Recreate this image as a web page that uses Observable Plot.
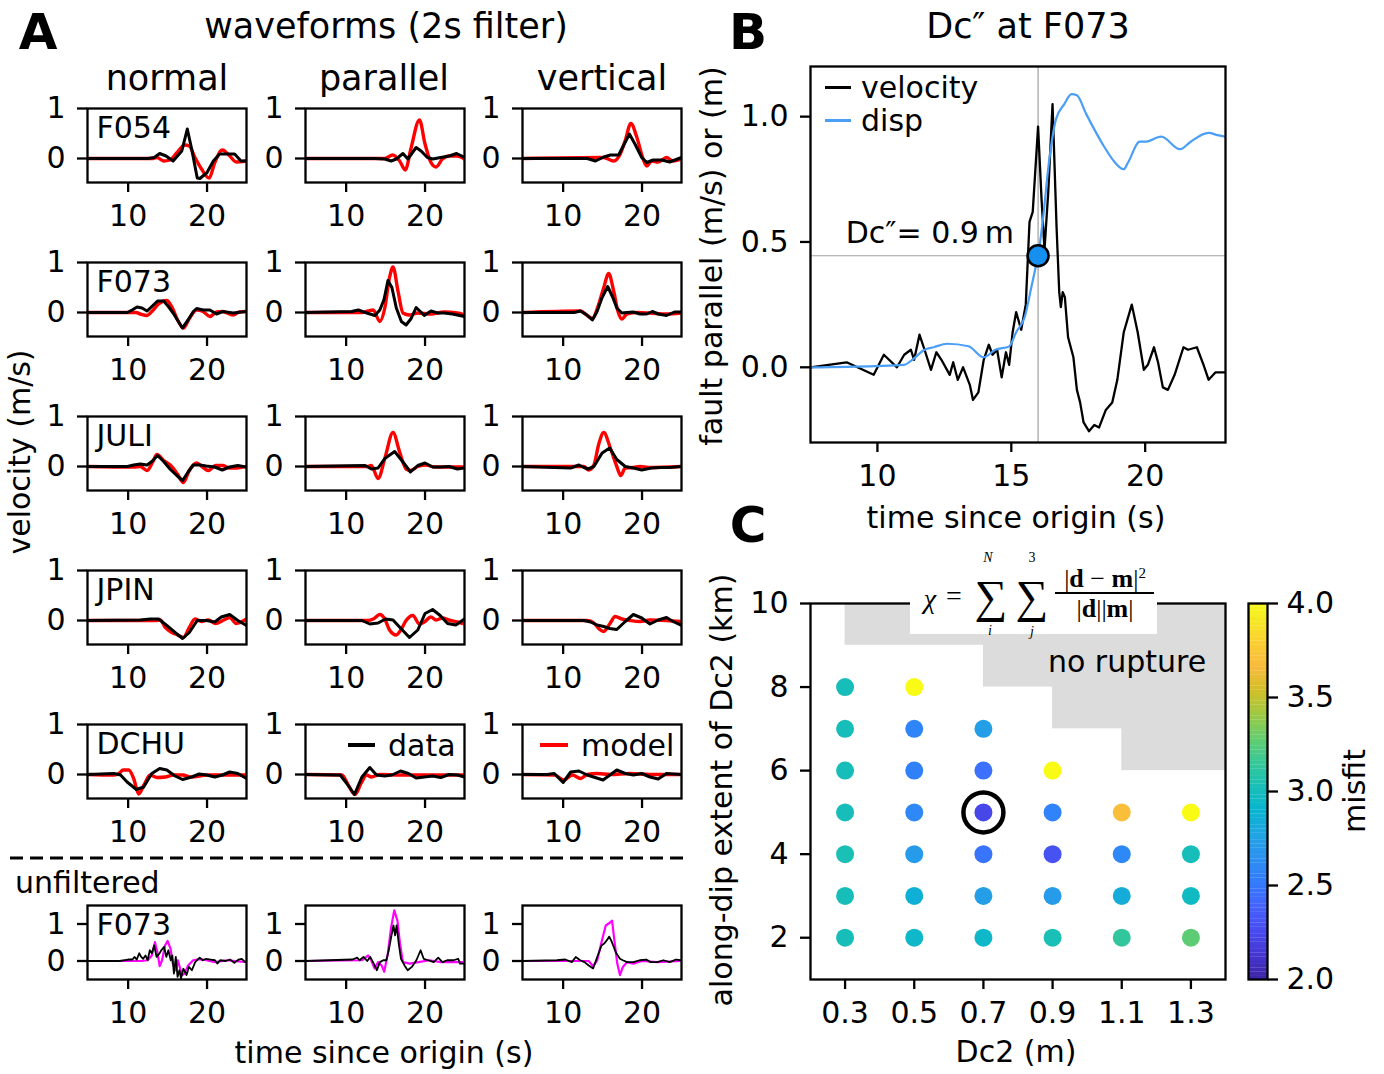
<!DOCTYPE html>
<html><head><meta charset="utf-8">
<script src="https://cdn.jsdelivr.net/npm/d3@7"></script>
<script src="https://cdn.jsdelivr.net/npm/@observablehq/plot@0.6"></script>
<style>
html,body{margin:0;padding:0;background:#fff;}
#root{position:relative;width:1384px;height:1074px;overflow:hidden;font-family:"DejaVu Sans",sans-serif;color:#000;background:#fff;}
.abs{position:absolute;white-space:nowrap;line-height:1;}
svg{overflow:visible;display:block;}
</style></head><body><div id="root"></div>
<script>
// ---------------- DATA ----------------
// Panel A: waveforms, [time (s), velocity (m/s)]
const stations = ["F054", "F073", "JULI", "JPIN", "DCHU"];
const components = ["normal", "parallel", "vertical"];
const waveTicksX = [10, 20];
const waveTicksY = [0, 1];

const F054_normal_data = [[4.85,0],[12.5,0],[13.3,0.02],[14.0,0.1],[14.8,0.05],[15.7,-0.05],[16.8,0.15],[17.5,0.59],[18.05,0.19],[18.76,-0.39],[19.1,-0.4],[20.0,-0.28],[20.8,-0.05],[21.6,0.09],[22.9,0.09],[23.5,0.09],[24.3,-0.05],[25,-0.05]];
const F054_normal_model = [[4.85,0],[13,0],[13.65,0.02],[14.5,-0.05],[15.3,-0.03],[16.2,0.12],[17.2,0.27],[17.75,0.25],[18.47,0.02],[19.3,-0.21],[20.27,-0.39],[20.98,-0.08],[21.95,0.17],[22.87,0.05],[23.7,-0.07],[25,-0.05]];
const F054_parallel_data = [[4.85,0],[13.6,0],[14.9,-0.01],[15.7,-0.05],[16.36,-0.01],[17.2,0.1],[17.82,-0.01],[18.87,0.22],[19.5,0.15],[20.3,0.02],[20.96,-0.01],[22.0,0.02],[23.05,0.05],[24.0,0.1],[25,0.02]];
const F054_parallel_model = [[4.85,0],[14.9,0],[15.9,0.07],[16.78,-0.05],[17.5,-0.23],[18.2,0.19],[19.29,0.77],[20.0,0.29],[20.75,-0.08],[21.4,-0.17],[22.2,-0.01],[23.0,0.05],[24.1,0.05],[25,-0.01]];
const F054_vertical_data = [[4.85,0],[13.05,0],[14.1,-0.05],[15.15,0.03],[16.0,0.07],[17.03,0.07],[17.65,0.26],[18.4,0.49],[19.1,0.29],[19.96,0.02],[20.6,-0.08],[21.4,-0.03],[22.5,-0.03],[23.5,-0.07],[25,0.02]];
const F054_vertical_model = [[4.85,0],[15.15,0.02],[16.4,-0.05],[17.24,0.09],[17.87,0.36],[18.58,0.70],[19.33,0.43],[20.08,0.02],[20.6,-0.15],[21.2,-0.05],[22.05,-0.07],[23.1,0.02],[23.9,-0.05],[25,-0.01]];

const F073_normal_data = [[4.85,0],[9.9,0],[10.5,0.05],[11.13,0.11],[11.76,0.09],[12.4,0.03],[13.0,0.12],[13.73,0.23],[14.5,0.23],[15.1,0.12],[15.7,-0.01],[16.37,-0.18],[16.87,-0.31],[17.6,-0.15],[18.26,0.02],[18.68,0.08],[19.5,0.05],[20.36,0.05],[21.2,-0.03],[22.0,0.02],[23.3,-0.01],[25,0.02]];
const F073_normal_model = [[4.85,0],[11.0,0],[11.55,-0.03],[12.4,-0.06],[13.0,0.02],[13.85,0.17],[14.9,0.24],[15.5,0.12],[16.37,-0.18],[17.0,-0.31],[17.75,-0.12],[18.68,0.05],[19.5,0.02],[20.36,-0.08],[21.2,0.01],[21.95,0.02],[23.3,-0.05],[24.1,0.01],[25,0.02]];
const F073_parallel_data = [[4.85,0],[10.7,0.02],[11.55,0.05],[12.4,0],[13.64,-0.06],[14.27,0.05],[14.8,0.26],[15.3,0.64],[15.8,0.5],[16.36,0.09],[17.0,-0.18],[17.6,-0.25],[18.24,-0.12],[18.87,0.1],[19.4,0.02],[19.9,-0.06],[20.75,0.03],[21.6,-0.01],[22.4,-0.01],[23.47,-0.03],[25,-0.08]];
const F073_parallel_model = [[4.85,0],[12.0,0],[12.8,0.03],[13.43,0.05],[14.27,-0.18],[14.9,0.09],[15.5,0.7],[15.94,0.91],[16.57,0.43],[17.2,-0.01],[18.03,-0.05],[19.08,-0.01],[20.75,-0.03],[22.4,0.01],[24.1,-0.01],[25,-0.05]];
const F073_vertical_data = [[4.85,0],[11.4,0],[12.2,0.03],[13.0,-0.05],[13.7,-0.15],[14.3,0.02],[14.94,0.3],[15.65,0.52],[16.3,0.3],[16.8,0.09],[17.45,-0.01],[18.07,0],[18.9,0.01],[19.75,-0.03],[20.6,-0.03],[21.3,0.02],[22.05,-0.03],[23.1,-0.06],[24.1,0.01],[25,0.01]];
const F073_vertical_model = [[4.85,0],[12.2,0.03],[13.05,-0.06],[13.7,-0.12],[14.5,0.16],[15.15,0.5],[15.77,0.78],[16.4,0.43],[16.95,0.02],[17.45,-0.13],[18.07,-0.03],[19.33,0],[21.0,-0.01],[23.1,-0.03],[25,-0.01]];

const JULI_normal_data = [[4.85,0],[9.9,0],[10.7,0.03],[11.55,0.05],[12.4,0.03],[13.0,0.1],[13.73,0.22],[14.5,0.1],[15.3,-0.05],[16.16,-0.18],[16.9,-0.28],[17.6,-0.11],[18.25,0.03],[19.1,0.03],[19.9,0.01],[20.97,-0.01],[21.93,-0.07],[22.85,-0.01],[23.9,0.02],[25,-0.01]];
const JULI_normal_model = [[4.85,0],[10.7,-0.01],[11.55,0],[12.4,-0.08],[13.14,0.1],[13.65,0.24],[14.5,0.12],[15.4,0.02],[16.25,-0.15],[17.0,-0.32],[17.75,-0.08],[18.68,0.07],[19.43,-0.01],[20.15,-0.08],[21.1,0.02],[21.95,0.02],[22.85,-0.03],[23.7,-0.03],[25,0]];
const JULI_parallel_data = [[4.85,0],[12.4,0.02],[13.2,-0.05],[14.05,-0.03],[14.9,0.16],[16.15,0.3],[17.2,0.09],[18.15,-0.11],[19.08,0.02],[20.0,0.07],[20.96,-0.01],[22.0,-0.01],[23.05,0],[24.1,-0.05],[25,-0.03]];
const JULI_parallel_model = [[4.85,0],[12.6,0],[13.2,0.02],[14.05,-0.24],[14.9,0.16],[15.94,0.68],[16.78,0.29],[17.6,-0.05],[18.15,-0.08],[19.08,0],[20.1,0.03],[21.2,-0.01],[23.2,-0.01],[25,-0.01]];
const JULI_vertical_data = [[4.85,0],[10.96,-0.03],[12.0,0.03],[12.64,-0.02],[13.14,-0.05],[13.9,0],[14.94,0.27],[15.9,0.37],[16.8,0.14],[17.87,0],[18.9,-0.03],[19.96,-0.07],[21.2,-0.03],[22.26,-0.02],[23.5,-0.02],[25,0]];
const JULI_vertical_model = [[4.85,0],[12.6,0],[13.26,-0.07],[13.9,0.03],[14.5,0.44],[15.15,0.68],[15.98,0.37],[16.8,0],[17.3,-0.18],[17.87,-0.03],[18.9,-0.02],[19.75,0],[20.8,-0.02],[25,0]];

const JPIN_normal_data = [[4.85,0],[11.55,0.01],[12.8,0.03],[13.86,0.03],[14.9,-0.1],[15.95,-0.24],[16.9,-0.36],[17.75,-0.24],[18.76,0],[19.94,0],[20.98,-0.03],[21.8,0.07],[22.87,0.12],[23.9,0],[25,-0.1]];
const JPIN_normal_model = [[4.85,0],[13.5,0],[14.07,0.01],[14.7,-0.14],[15.53,-0.24],[16.16,-0.28],[17.0,-0.34],[17.75,-0.14],[18.47,0.03],[19.3,-0.02],[20.15,0.01],[21.1,-0.06],[22.0,0],[22.87,0.06],[23.7,-0.06],[25,0.03]];
const JPIN_parallel_data = [[4.85,0],[12.0,0],[13.0,-0.07],[14.05,-0.05],[15.0,0.03],[15.94,0.01],[17.0,-0.17],[18.03,-0.34],[19.08,-0.19],[20.0,0.14],[20.96,0.22],[21.92,0.1],[22.85,-0.06],[23.9,-0.09],[25,0.03]];
const JPIN_parallel_model = [[4.85,0],[12.8,0],[13.43,0.03],[14.27,0.12],[14.9,0.03],[15.5,-0.19],[16.36,-0.29],[17.0,-0.17],[17.6,0],[18.45,0.1],[19.29,-0.07],[19.9,-0.03],[20.75,0.07],[21.4,0.01],[22.2,0.05],[23.0,0.01],[24.1,-0.03],[25,-0.07]];
const JPIN_vertical_data = [[4.85,0],[12.64,0],[13.47,-0.03],[14.3,-0.09],[15.15,-0.12],[15.9,-0.16],[16.8,-0.18],[17.87,-0.02],[18.9,0.12],[19.96,0.05],[21.0,-0.07],[22.05,0.01],[23.1,0.06],[23.93,-0.02],[25,-0.1]];
const JPIN_vertical_model = [[4.85,0],[13.1,0],[13.9,-0.05],[14.5,-0.16],[15.15,-0.22],[15.9,-0.07],[16.6,0.08],[17.45,0.03],[18.5,0],[19.75,-0.02],[21.0,0.01],[23.1,0],[25,-0.02]];

const DCHU_normal_data = [[4.85,0],[8.2,0.02],[9.04,-0.01],[9.87,-0.15],[11.05,-0.3],[11.97,-0.25],[13.0,0.02],[14.0,0.12],[14.9,0.09],[15.95,-0.03],[16.9,-0.1],[18.05,-0.05],[19.0,0.01],[19.95,-0.01],[20.98,-0.05],[21.95,-0.01],[22.87,0.05],[23.9,0.02],[25,-0.08]];
const DCHU_normal_model = [[4.85,0],[8.2,-0.01],[8.83,0.02],[9.37,0.09],[10.08,0.09],[10.7,-0.08],[11.34,-0.39],[11.97,-0.22],[12.8,-0.01],[13.65,-0.06],[14.7,-0.05],[15.74,-0.01],[16.9,-0.01],[18.05,-0.05],[19.95,-0.01],[22.4,-0.01],[25,-0.01]];
const DCHU_parallel_data = [[4.85,0],[8.6,-0.01],[9.25,-0.01],[10.08,-0.18],[11.05,-0.4],[12.0,-0.05],[13.0,0.14],[13.85,-0.01],[14.9,-0.03],[15.8,-0.01],[16.9,0.07],[17.9,0.02],[18.87,-0.07],[19.9,-0.05],[20.96,-0.03],[22.0,-0.06],[23.05,0],[24.1,-0.01],[25,-0.05]];
const DCHU_parallel_model = [[4.85,0],[9.46,-0.01],[10.3,-0.22],[11.13,-0.4],[11.88,-0.18],[12.6,-0.01],[13.2,-0.05],[14.27,0],[16.9,-0.01],[21.0,-0.01],[25,-0.01]];
const DCHU_vertical_data = [[4.85,0],[7.95,0],[8.87,0.02],[10.0,-0.16],[10.96,0.05],[12.0,0.07],[13.05,-0.01],[15.06,-0.11],[16.8,0.09],[17.87,0.02],[18.9,-0.01],[19.96,0.02],[21.0,-0.05],[22.05,-0.09],[23.1,0.02],[25,0]];
const DCHU_vertical_model = [[4.85,0],[8.9,-0.01],[10.1,-0.11],[11.17,-0.01],[12.2,-0.08],[13.05,0],[14.3,0.02],[16.0,0],[18.5,0.02],[21.0,0],[25,0]];

// Unfiltered F073
const F073raw_normal_data = [[4.85,0],[8.9,0],[10.0,0.04],[10.55,0.04],[10.8,0.11],[11.1,0.04],[11.4,0.21],[11.65,0.11],[11.9,0.06],[12.2,0.15],[12.47,0.02],[12.75,0.29],[13.0,0.21],[13.3,0.42],[13.6,0.11],[13.96,0.2],[14.2,0.29],[14.56,0.38],[14.84,0.11],[15.1,0.29],[15.4,0.02],[15.6,0.15],[15.8,-0.34],[16.04,0.11],[16.26,-0.43],[16.5,-0.25],[16.7,-0.47],[17.0,-0.21],[17.4,-0.38],[17.7,-0.16],[18.08,-0.25],[18.5,-0.03],[19.07,0.09],[19.45,0.02],[19.9,0.06],[20.44,0.04],[21.0,0.02],[21.3,-0.07],[21.65,0.02],[22.36,0],[22.9,0.04],[23.46,-0.05],[24.0,0.04],[24.4,0.06],[24.84,-0.03],[25,0]];
const F073raw_normal_model = [[4.85,0],[11.7,0],[12.47,0.02],[13.0,0.15],[13.4,0.51],[13.7,0.24],[14.0,-0.14],[14.3,0.02],[14.67,0.42],[15.0,0.54],[15.38,0.33],[15.66,-0.07],[16.04,-0.25],[16.3,0.02],[16.6,-0.21],[16.87,-0.38],[17.14,-0.34],[17.6,-0.12],[18.24,0.02],[19.07,0.05],[19.9,0.02],[21.0,-0.03],[22.6,0.02],[25,-0.03]];
const F073raw_parallel_data = [[4.85,0],[10.8,0.04],[11.4,0.09],[11.7,0.02],[12.2,0.11],[12.67,0],[13.05,0.11],[13.5,-0.07],[13.9,-0.25],[14.28,-0.03],[14.7,0.02],[15.1,0.02],[15.4,0.29],[15.7,0.64],[16.0,0.96],[16.2,0.69],[16.4,0.96],[16.67,0.46],[16.95,0.06],[17.4,-0.12],[17.8,-0.25],[18.33,-0.16],[18.9,0.02],[19.44,0.29],[19.83,0.06],[20.4,0.02],[21.1,-0.03],[21.67,0.09],[22.2,-0.03],[22.8,0.02],[23.6,0.02],[24.2,0.06],[24.44,-0.07],[25,-0.07]];
const F073raw_parallel_model = [[4.85,0],[12.0,0.02],[12.8,0.15],[13.17,0.02],[13.6,-0.2],[14.06,-0.03],[14.5,-0.12],[14.83,-0.29],[15.28,0.2],[15.7,0.91],[16.1,1.37],[16.5,1.09],[16.83,0.46],[17.2,-0.03],[18.05,-0.07],[19.17,-0.03],[20.55,0.02],[22.0,-0.03],[25,-0.03]];
const F073raw_vertical_data = [[4.85,0],[9.2,0.02],[10.27,0.04],[11.1,-0.03],[11.6,0.11],[12.16,0.02],[12.7,-0.03],[13.24,-0.12],[13.8,-0.2],[14.32,0.11],[14.86,0.42],[15.24,0.48],[15.57,0.57],[15.84,0.66],[16.1,0.55],[16.5,0.33],[16.76,0.2],[17.2,0.06],[17.57,0.02],[18.1,-0.03],[18.9,-0.03],[19.7,0.02],[20.54,0.04],[21.08,-0.03],[21.9,-0.03],[22.7,0.02],[23.5,-0.03],[24.3,0.04],[25,0.02]];
const F073raw_vertical_model = [[4.85,0],[13.24,0],[13.8,-0.14],[14.32,0.02],[14.86,0.51],[15.4,0.96],[15.95,1.04],[16.2,1.09],[16.5,0.55],[16.86,-0.07],[17.2,-0.38],[17.57,-0.16],[18.1,-0.03],[18.9,-0.07],[19.97,0],[22.0,-0.03],[25,0]];

// Panel B: fault parallel velocity and displacement at F073
const bVelocity = [[7.5,0],[8.85,0.02],[9.86,-0.03],[10.24,0.05],[10.73,0],[11.0,0.05],[11.25,0.07],[11.37,0.03],[11.57,0.13],[11.76,0.07],[12.0,-0.01],[12.2,0.06],[12.39,0.03],[12.7,-0.03],[12.83,0.02],[13.0,-0.05],[13.2,0],[13.45,-0.07],[13.57,-0.13],[13.77,-0.1],[13.97,0.03],[14.16,0.09],[14.3,0.05],[14.47,0.07],[14.64,-0.04],[14.8,0.06],[14.92,0.01],[15.05,0.14],[15.18,0.22],[15.37,0.15],[15.54,0.25],[15.68,0.58],[15.8,0.62],[16.0,0.96],[16.13,0.67],[16.24,0.47],[16.38,0.70],[16.54,1.05],[16.69,0.56],[16.79,0.30],[16.85,0.24],[16.92,0.30],[17.0,0.28],[17.12,0.12],[17.32,0.04],[17.45,-0.09],[17.57,-0.14],[17.7,-0.22],[17.9,-0.255],[18.1,-0.23],[18.28,-0.24],[18.53,-0.17],[18.77,-0.14],[18.96,-0.05],[19.2,0.14],[19.5,0.25],[19.72,0.14],[19.95,-0.01],[20.1,0.01],[20.33,0.08],[20.48,0.02],[20.66,-0.08],[20.85,-0.09],[21.1,-0.03],[21.43,0.08],[21.6,0.07],[21.93,0.08],[22.18,0.01],[22.37,-0.05],[22.63,-0.02],[23.0,-0.02]];
const bDisp = [[7.5,0],[9.9,0.005],[11.0,0.01],[11.3,0.03],[11.76,0.07],[12.1,0.08],[12.6,0.094],[13.4,0.084],[13.97,0.04],[14.4,0.07],[14.92,0.083],[15.18,0.14],[15.5,0.2],[15.73,0.31],[15.93,0.41],[16.0,0.445],[16.17,0.58],[16.42,0.83],[16.67,0.99],[16.98,1.05],[17.25,1.09],[17.45,1.085],[17.8,1.01],[18.47,0.88],[18.85,0.82],[19.2,0.79],[19.35,0.815],[19.8,0.90],[20.0,0.90],[20.6,0.92],[21.3,0.87],[21.7,0.90],[22.36,0.935],[22.75,0.925],[23.0,0.92]];
const dcTime = 16.0;
const dcDisp = 0.445;
const dcLabel = "Dc\u2033= 0.9\u2009m";
const bTicksX = [10, 15, 20];
const bTicksY = [0, 0.5, 1.0];

// Panel C: misfit grid
const gridDc2    = [0.3,0.5, 0.3,0.5,0.7, 0.3,0.5,0.7,0.9, 0.3,0.5,0.7,0.9,1.1,1.3, 0.3,0.5,0.7,0.9,1.1,1.3, 0.3,0.5,0.7,0.9,1.1,1.3, 0.3,0.5,0.7,0.9,1.1,1.3];
const gridExtent = [8,8, 7,7,7, 6,6,6,6, 5,5,5,5,5,5, 4,4,4,4,4,4, 3,3,3,3,3,3, 2,2,2,2,2,2];
const gridMisfit = [3.0,4.0, 3.0,2.56,2.72, 3.0,2.54,2.45,4.0, 3.0,2.58,2.22,2.55,3.68,4.0, 3.02,2.7,2.47,2.28,2.58,3.0, 3.0,2.85,2.72,2.7,2.82,2.95, 3.0,2.93,2.93,3.02,3.12,3.25];
const bestDc2 = 0.7, bestExtent = 5;
const noRuptureDc2From = [0.3, 0.7, 0.9, 1.1];
const noRuptureExtentFrom = [9, 8, 7, 6];
const cTicksX = [0.3, 0.5, 0.7, 0.9, 1.1, 1.3];
const cTicksY = [2, 4, 6, 8, 10];
const cbTicks = [2.0, 2.5, 3.0, 3.5, 4.0];
const misfitRange = [2, 4];
// parula colormap stops (index out of 63)
const parulaIdx = [0,4,8,12,16,20,24,28,32,36,40,44,48,52,56,60,63];
const parulaColors = ["#3e26a8","#4537d5","#484df0","#4563fd","#327cfc","#2b91ef","#20a5e3","#08b5d0","#19bfb6","#37c897","#64cd6f","#9dc943","#d1bf27","#f8ba3d","#fccf30","#f5e924","#f9fb15"];

// ---------------- LAYOUT ----------------
const root = document.getElementById("root");
const FONT = "DejaVu Sans";
const baseStyle = {background: "none", fontFamily: FONT, fontSize: "30px", color: "black", overflow: "visible"};
const AXW = 2.3;
const PADX = 12, PADY = 12;

function put(node, left, top) {
  const d = document.createElement("div");
  d.style.position = "absolute"; d.style.left = left + "px"; d.style.top = top + "px";
  d.style.lineHeight = "0";
  d.appendChild(node); root.appendChild(d); return d;
}
function label(text, x, y, o = {}) {
  const d = document.createElement("div");
  d.className = "abs";
  d.textContent = text;
  d.style.fontSize = (o.size || 30) + "px";
  d.style.fontWeight = o.weight || "normal";
  d.style.fontFamily = o.family || FONT;
  if (o.italic) d.style.fontStyle = "italic";
  d.style.left = x + "px"; d.style.top = y + "px";
  const tx = o.anchor === "start" ? "0" : o.anchor === "end" ? "-100%" : "-50%";
  d.style.transform = `translate(${tx},-50%)` + (o.rotate ? ` rotate(${o.rotate}deg)` : "");
  root.appendChild(d); return d;
}
function box(x, y, w, h, color) {
  const d = document.createElement("div");
  d.style.position = "absolute"; d.style.left = x + "px"; d.style.top = y + "px";
  d.style.width = w + "px"; d.style.height = h + "px"; d.style.background = color;
  root.appendChild(d); return d;
}

// ---------- Panel A ----------
const colLefts = [87, 305, 522];
const rowTops = [108, 262, 416, 570, 724];
const rawTop = 905;
const frameW = 159, frameH = 74;
const waveX = [4.85, 25];
const filtY = [-0.48, 1.0];
const rawY = [-0.5, 1.5];
const ML = 60, MR = 12, MT = 10, MB = 60;

const waves = {F054: [F054_normal_data, F054_normal_model, F054_parallel_data, F054_parallel_model, F054_vertical_data, F054_vertical_model],
  F073: [F073_normal_data, F073_normal_model, F073_parallel_data, F073_parallel_model, F073_vertical_data, F073_vertical_model],
  JULI: [JULI_normal_data, JULI_normal_model, JULI_parallel_data, JULI_parallel_model, JULI_vertical_data, JULI_vertical_model],
  JPIN: [JPIN_normal_data, JPIN_normal_model, JPIN_parallel_data, JPIN_parallel_model, JPIN_vertical_data, JPIN_vertical_model],
  DCHU: [DCHU_normal_data, DCHU_normal_model, DCHU_parallel_data, DCHU_parallel_model, DCHU_vertical_data, DCHU_vertical_model]};
const rawWaves = [F073raw_normal_data, F073raw_normal_model, F073raw_parallel_data, F073raw_parallel_model, F073raw_vertical_data, F073raw_vertical_model];

function wavePlot(data, model, yDom, stationLabel, modelColor, lw, modelCurve) {
  return Plot.plot({
    width: ML + frameW + MR, height: MT + frameH + MB,
    marginLeft: ML, marginRight: MR, marginTop: MT, marginBottom: MB,
    style: baseStyle,
    x: {domain: waveX, axis: null},
    y: {domain: yDom, axis: null},
    marks: [
      Plot.line(model, {x: d => d[0], y: d => d[1], stroke: modelColor, strokeWidth: lw + 0.4, curve: modelCurve, clip: true}),
      Plot.line(data, {x: d => d[0], y: d => d[1], stroke: "black", strokeWidth: lw, clip: true}),
      Plot.frame({stroke: "black", strokeWidth: AXW}),
      Plot.axisX({ticks: waveTicksX, tickSize: 10, tickPadding: PADX, strokeWidth: AXW, label: null, fontSize: 30}),
      Plot.axisY({ticks: waveTicksY, tickSize: 10, tickPadding: PADY, strokeWidth: AXW, label: null, tickFormat: "d", fontSize: 30}),
      stationLabel ? Plot.text([stationLabel], {text: d => d, frameAnchor: "top-left", dx: 9, dy: 8, fontSize: 30, textAnchor: "start", lineAnchor: "top"}) : null
    ]
  });
}

stations.forEach((s, r) => {
  components.forEach((c, ci) => {
    const arr = waves[s];
    const p = wavePlot(arr[ci * 2], arr[ci * 2 + 1], filtY, ci === 0 ? s : null, "#ff0000", 3, "monotone-x");
    put(p, colLefts[ci] - ML, rowTops[r] - MT);
  });
});
components.forEach((c, ci) => {
  const p = wavePlot(rawWaves[ci * 2], rawWaves[ci * 2 + 1], rawY, ci === 0 ? "F073" : null, "#ff00ff", 1.8, "linear");
  put(p, colLefts[ci] - ML, rawTop - MT);
});

// Panel A texts
label("A", 38, 32, {size: 50, weight: "bold"});
label("waveforms (2s filter)", 386, 26, {size: 35});
label("normal", 167, 78, {size: 35});
label("parallel", 384, 78, {size: 35});
label("vertical", 602, 78, {size: 35});
label("velocity (m/s)", 20, 452, {size: 30, rotate: -90});
label("unfiltered", 15, 883, {size: 30, anchor: "start"});
label("time since origin (s)", 384, 1053, {size: 30});
// legends
box(348, 743, 27, 4, "#000"); label("data", 388, 746, {size: 30, anchor: "start"});
box(540, 743, 28, 4, "#ff0000"); label("model", 581, 746, {size: 30, anchor: "start"});
// dashed separator
{
  const ns = "http://www.w3.org/2000/svg";
  const svg = document.createElementNS(ns, "svg");
  svg.setAttribute("width", 690); svg.setAttribute("height", 6);
  const ln = document.createElementNS(ns, "line");
  ln.setAttribute("x1", 0); ln.setAttribute("x2", 673); ln.setAttribute("y1", 3); ln.setAttribute("y2", 3);
  ln.setAttribute("stroke", "black"); ln.setAttribute("stroke-width", 2.8); ln.setAttribute("stroke-dasharray", "13,7");
  svg.appendChild(ln);
  put(svg, 10, 855);
}

// ---------- Panel B ----------
const bX = [7.5, 23], bY = [-0.3, 1.2];
{
  const p = Plot.plot({
    width: 525, height: 446, marginLeft: 100, marginRight: 10, marginTop: 10, marginBottom: 60,
    style: baseStyle,
    x: {domain: bX, axis: null}, y: {domain: bY, axis: null},
    marks: [
      Plot.ruleX([dcTime], {stroke: "#a0a0a0", strokeWidth: 1.2}),
      Plot.ruleY([dcDisp], {stroke: "#a0a0a0", strokeWidth: 1.2}),
      Plot.line(bVelocity, {x: d => d[0], y: d => d[1], stroke: "black", strokeWidth: 2.3, clip: true}),
      Plot.line(bDisp, {x: d => d[0], y: d => d[1], stroke: "#4a9ef5", strokeWidth: 2.2, curve: "monotone-x", clip: true}),
      Plot.dot([[dcTime, dcDisp]], {x: d => d[0], y: d => d[1], r: 10.5, fill: "#1590f0", stroke: "black", strokeWidth: 2.5}),
      Plot.text([[dcTime, dcDisp]], {x: d => d[0], y: d => d[1], text: () => dcLabel, dx: -24, dy: -22, textAnchor: "end", fontSize: 30}),
      Plot.frame({stroke: "black", strokeWidth: AXW}),
      Plot.axisX({ticks: bTicksX, tickSize: 10, tickPadding: PADX, strokeWidth: AXW, label: null, fontSize: 30}),
      Plot.axisY({ticks: bTicksY, tickSize: 10, tickPadding: PADY, strokeWidth: AXW, label: null, tickFormat: ".1f", fontSize: 30})
    ]
  });
  put(p, 710, 56);
}
label("B", 748, 32, {size: 50, weight: "bold"});
label("Dc\u2033 at F073", 1028, 26, {size: 35});
label("fault parallel (m/s) or (m)", 712, 256, {size: 30, rotate: -90});
label("time since origin (s)", 1016, 518, {size: 30});
box(825, 86, 26, 2.5, "#000"); label("velocity", 861, 88, {size: 30, anchor: "start"});
box(825, 119, 26, 2.5, "#4a9ef5"); label("disp", 861, 121, {size: 30, anchor: "start"});

// ---------- Panel C ----------
const colorScale = {type: "linear", domain: parulaIdx.map(i => misfitRange[0] + (misfitRange[1] - misfitRange[0]) * i / 63), range: parulaColors, interpolate: "rgb"};
const cX = [0.2, 1.4], cY = [1, 10];
const grid = gridDc2.map((x, i) => ({dc2: x, extent: gridExtent[i], misfit: gridMisfit[i]}));
const noRupture = noRuptureDc2From.map((x, i) => ({x1: x, y1: noRuptureExtentFrom[i]}));
{
  const p = Plot.plot({
    width: 525, height: 446, marginLeft: 100, marginRight: 10, marginTop: 10, marginBottom: 60,
    style: baseStyle,
    x: {domain: cX, axis: null}, y: {domain: cY, axis: null},
    color: colorScale,
    marks: [
      Plot.rect(noRupture, {x1: "x1", x2: () => cX[1], y1: "y1", y2: () => cY[1], fill: "#dcdcdc"}),
      Plot.dot(grid, {x: "dc2", y: "extent", fill: "misfit", r: 9}),
      Plot.dot([{dc2: bestDc2, extent: bestExtent}], {x: "dc2", y: "extent", r: 20, stroke: "black", strokeWidth: 4.5, fill: "none"}),
      Plot.frame({stroke: "black", strokeWidth: AXW}),
      Plot.axisX({ticks: cTicksX, tickSize: 10, tickPadding: PADX, strokeWidth: AXW, label: null, tickFormat: ".1f", fontSize: 30}),
      Plot.axisY({ticks: cTicksY, tickSize: 10, tickPadding: PADY, strokeWidth: AXW, label: null, tickFormat: "d", fontSize: 30})
    ]
  });
  put(p, 710, 593);
}
// colorbar
{
  const steps = d3.range(0, 100).map(i => misfitRange[0] + (misfitRange[1] - misfitRange[0]) * i / 100);
  const dv = (misfitRange[1] - misfitRange[0]) / 100;
  const p = Plot.plot({
    width: 99, height: 396, marginLeft: 10, marginRight: 70, marginTop: 10, marginBottom: 10,
    style: baseStyle,
    x: {domain: [0, 1], axis: null}, y: {domain: misfitRange, axis: null},
    color: colorScale,
    marks: [
      Plot.rect(steps, {x1: () => 0, x2: () => 1, y1: d => d, y2: d => d + dv * 1.05, fill: d => d}),
      Plot.frame({stroke: "black", strokeWidth: AXW}),
      Plot.axisY({anchor: "right", ticks: cbTicks, tickSize: 10, tickPadding: 9, strokeWidth: AXW, label: null, tickFormat: ".1f", fontSize: 30})
    ]
  });
  put(p, 1238, 593);
}
label("C", 748, 525, {size: 50, weight: "bold"});
label("along-dip extent of Dc2 (km)", 722, 790, {size: 30, rotate: -90});
label("Dc2 (m)", 1016, 1052, {size: 30});
label("misfit", 1355, 791, {size: 30, rotate: -90});
label("no rupture", 1127, 662, {size: 30});
// formula box
box(910, 552, 247, 82, "#fff");
const SERIF = "Liberation Serif";
label("\u03c7", 930, 599, {size: 28, family: SERIF, italic: true});
label("=", 954, 596, {size: 28, family: SERIF});
label("\u2211", 991, 597, {size: 46, family: SERIF});
label("N", 988, 558, {size: 14, family: SERIF, italic: true});
label("i", 990, 631, {size: 14, family: SERIF, italic: true});
label("\u2211", 1032, 597, {size: 46, family: SERIF});
label("3", 1032, 558, {size: 14, family: SERIF});
label("j", 1032, 632, {size: 14, family: SERIF, italic: true});
{
  const n = label("", 1105, 579, {size: 26, family: SERIF});
  n.innerHTML = "|<b>d</b> \u2212 <b>m</b>|<sup style='font-size:15px'>2</sup>";
  box(1055, 592, 99, 1.5, "#000");
  const dd = label("", 1105, 609, {size: 26, family: SERIF});
  dd.innerHTML = "|<b>d</b>||<b>m</b>|";
}
</script></body></html>
